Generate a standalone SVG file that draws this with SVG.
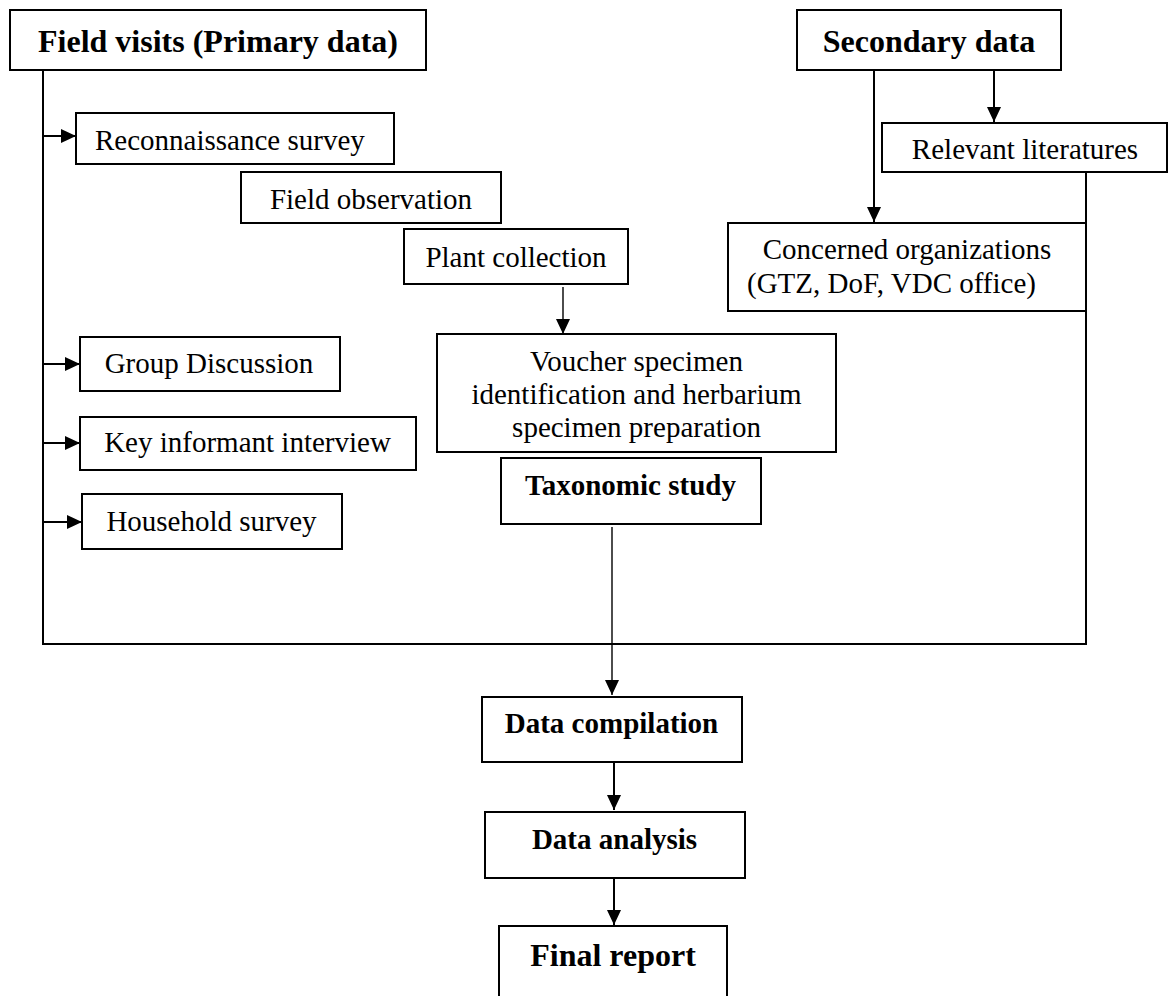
<svg xmlns="http://www.w3.org/2000/svg" width="1169" height="996" viewBox="0 0 1169 996">
<style>
.box{fill:#fff;stroke:#000;stroke-width:2}
.t{font-family:"Liberation Serif","Times New Roman",serif;font-size:29px;fill:#000}
.b{font-weight:bold}
.big{font-size:32px}
.c{text-anchor:middle}
.ln{fill:none;stroke:#000;stroke-width:2}
.thin{stroke-width:1.4}
</style>
<defs>
<marker id="ah" viewBox="0 0 15 14" refX="15" refY="7" markerWidth="15" markerHeight="14" markerUnits="userSpaceOnUse" orient="auto">
<path d="M0 0 L15 7 L0 14 Z" fill="#000"/>
</marker>
</defs>
<rect width="1169" height="996" fill="#fff"/>
<g id="connectors">
<path class="ln" d="M43 70 V644 H1086 V172"/>
<path class="ln" d="M43 136 H76" marker-end="url(#ah)"/>
<path class="ln" d="M43 364 H80" marker-end="url(#ah)"/>
<path class="ln" d="M43 443 H80" marker-end="url(#ah)"/>
<path class="ln" d="M43 522 H82" marker-end="url(#ah)"/>
<path class="ln" d="M874 70 V222" marker-end="url(#ah)"/>
<path class="ln" d="M994 70 V122" marker-end="url(#ah)"/>
<path class="ln thin" d="M563 287 V334" marker-end="url(#ah)"/>
<path class="ln thin" d="M612 527 V695" marker-end="url(#ah)"/>
<path class="ln" d="M614 762 V810" marker-end="url(#ah)"/>
<path class="ln" d="M614 878 V925" marker-end="url(#ah)"/>
</g>
<g id="field-visits">
<rect class="box" x="10" y="10" width="416" height="60"/>
<text class="t b big c" x="218" y="52">Field visits (Primary data)</text>
</g>
<g id="secondary-data">
<rect class="box" x="797" y="10" width="264" height="60"/>
<text class="t b big c" x="929" y="52">Secondary data</text>
</g>
<g id="reconnaissance">
<rect class="box" x="76" y="113" width="318" height="51"/>
<text class="t" x="95" y="150">Reconnaissance survey</text>
</g>
<g id="relevant-literatures">
<rect class="box" x="882" y="123" width="285" height="49"/>
<text class="t c" x="1025" y="159">Relevant literatures</text>
</g>
<g id="field-observation">
<rect class="box" x="241" y="172" width="260" height="51"/>
<text class="t c" x="371" y="209">Field observation</text>
</g>
<g id="plant-collection">
<rect class="box" x="404" y="229" width="224" height="55"/>
<text class="t c" x="516" y="267">Plant collection</text>
</g>
<g id="concerned-organizations">
<rect class="box" x="728" y="223" width="358" height="88"/>
<text class="t c" x="907" y="259">Concerned organizations</text>
<text class="t" x="747" y="293">(GTZ, DoF, VDC office)</text>
</g>
<g id="voucher-specimen">
<rect class="box" x="437" y="334" width="399" height="118"/>
<text class="t c" x="636.5" y="371">Voucher specimen</text>
<text class="t c" x="636.5" y="404">identification and herbarium</text>
<text class="t c" x="636.5" y="437">specimen preparation</text>
</g>
<g id="taxonomic-study">
<rect class="box" x="501" y="458" width="260" height="66"/>
<text class="t b c" x="630.5" y="495">Taxonomic study</text>
</g>
<g id="group-discussion">
<rect class="box" x="80" y="337" width="260" height="54"/>
<text class="t c" x="209" y="373">Group Discussion</text>
</g>
<g id="key-informant">
<rect class="box" x="80" y="417" width="336" height="53"/>
<text class="t c" x="247.5" y="452">Key informant interview</text>
</g>
<g id="household-survey">
<rect class="box" x="82" y="494" width="260" height="55"/>
<text class="t c" x="211.5" y="531">Household survey</text>
</g>
<g id="data-compilation">
<rect class="box" x="482" y="697" width="260" height="65"/>
<text class="t b c" x="611.5" y="733">Data compilation</text>
</g>
<g id="data-analysis">
<rect class="box" x="485" y="812" width="260" height="66"/>
<text class="t b c" x="614.5" y="849">Data analysis</text>
</g>
<g id="final-report">
<rect class="box" x="499" y="926" width="228" height="80"/>
<text class="t b big c" x="613" y="966">Final report</text>
</g>
</svg>
